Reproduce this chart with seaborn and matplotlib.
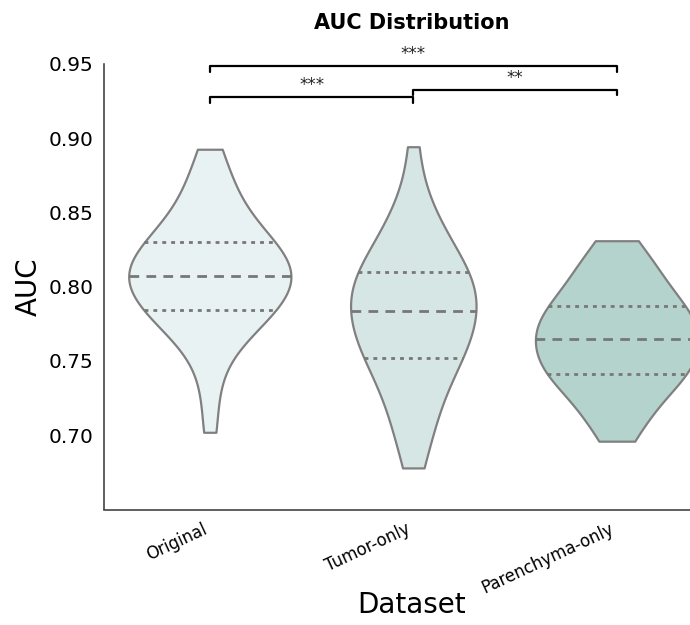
import numpy as np
import pandas as pd
import matplotlib
matplotlib.use("Agg")
import matplotlib.pyplot as plt
import seaborn as sns

# AUC values per dataset (min / quartiles / max)
original_auc = [0.702, 0.728, 0.748, 0.759, 0.767, 0.772, 0.776, 0.779, 0.781, 0.783,
                0.7845, 0.788, 0.792, 0.795, 0.798, 0.800, 0.802, 0.804, 0.805, 0.806,
                0.8085, 0.810, 0.812, 0.815, 0.818, 0.820, 0.823, 0.825, 0.827, 0.829,
                0.8325, 0.836, 0.840, 0.845, 0.850, 0.856, 0.863, 0.871, 0.881, 0.8926]
tumor_auc = [0.678, 0.692, 0.703, 0.712, 0.720, 0.727, 0.733, 0.739, 0.745, 0.7512,
             0.7527, 0.7559, 0.7591, 0.7623, 0.7655, 0.7687, 0.7719, 0.7751, 0.7783, 0.7815,
             0.7853, 0.7879, 0.7905, 0.7932, 0.7958, 0.7984, 0.8011, 0.8037, 0.8063, 0.809,
             0.8125, 0.816, 0.820, 0.825, 0.830, 0.836, 0.843, 0.851, 0.862, 0.8943]
parenchyma_auc = [0.696, 0.704, 0.711, 0.717, 0.722, 0.727, 0.731, 0.735, 0.738, 0.740,
                  0.742, 0.7444, 0.7468, 0.7492, 0.7516, 0.754, 0.7563, 0.7587, 0.7611, 0.7635,
                  0.7665, 0.7687, 0.7708, 0.773, 0.7752, 0.7773, 0.7795, 0.7817, 0.7838, 0.786,
                  0.790, 0.793, 0.797, 0.801, 0.805, 0.809, 0.814, 0.819, 0.825, 0.831]

datasets = ["Original", "Tumor-only", "Parenchyma-only"]
colors = ["#e7f3f5", "#d3e9e6", "#afd8cf"]

# significance pairs: (left idx, right idx, bracket height, label)
sig_left = [0, 0, 1]
sig_right = [2, 1, 2]
sig_y = [0.9487, 0.9276, 0.9328]
sig_text = ["***", "***", "**"]

df = pd.DataFrame({
    "Dataset": ["Original"] * len(original_auc) + ["Tumor-only"] * len(tumor_auc)
               + ["Parenchyma-only"] * len(parenchyma_auc),
    "AUC": original_auc + tumor_auc + parenchyma_auc,
})

sns.set_style("white")
plt.rcParams["font.family"] = ["DejaVu Sans"]
for k in ["text.color", "axes.labelcolor", "xtick.color", "ytick.color"]:
    plt.rcParams[k] = "black"

fig = plt.figure(figsize=(6.9, 6.25), dpi=100)
ax = fig.add_axes([0.1507, 0.1848, 0.8907, 0.7128])

sns.violinplot(data=df, x="Dataset", y="AUC", hue="Dataset", order=datasets,
               hue_order=datasets, palette=colors, legend=False, cut=0,
               inner="quart", common_norm=True, linecolor="#808080", linewidth=1.6,
               inner_kws=dict(linewidth=2.0, color="#777777"), ax=ax)

# median = long dashes, quartiles = short dashes
for i, line in enumerate(ax.lines):
    if i % 3 == 1:
        line.set_dashes((3.5, 2.6))
    else:
        line.set_dashes((1.4, 1.8))

ax.set_xlim(-0.52, 2.5)
ax.set_ylim(0.65, 0.95)
ax.set_yticks([0.70, 0.75, 0.80, 0.85, 0.90, 0.95])
sns.despine(ax=ax)
for s in ["left", "bottom"]:
    ax.spines[s].set_color("#333333")
    ax.spines[s].set_linewidth(1.1)

ax.tick_params(axis="y", labelsize=14.5, length=4, width=1, color="#333333")
ax.tick_params(axis="x", labelsize=12, length=4, width=1, color="#333333")
plt.setp(ax.get_xticklabels(), rotation=25, ha="right")

ax.set_xlabel("Dataset", fontsize=20, labelpad=-4)
ax.set_ylabel("AUC", fontsize=20)
ax.set_title("AUC Distribution", fontsize=15, fontweight="bold", pad=25)

# significance brackets
drop = 0.004
for l, r, y, t in zip(sig_left, sig_right, sig_y, sig_text):
    ax.plot([l, l, r, r], [y - drop, y, y, y - drop], color="black", lw=1.6,
            clip_on=False)
    ax.text((l + r) / 2, y + 0.002, t, ha="center", va="bottom", fontsize=12,
            color="#222222", clip_on=False)

fig.savefig("out.png", dpi=100)
